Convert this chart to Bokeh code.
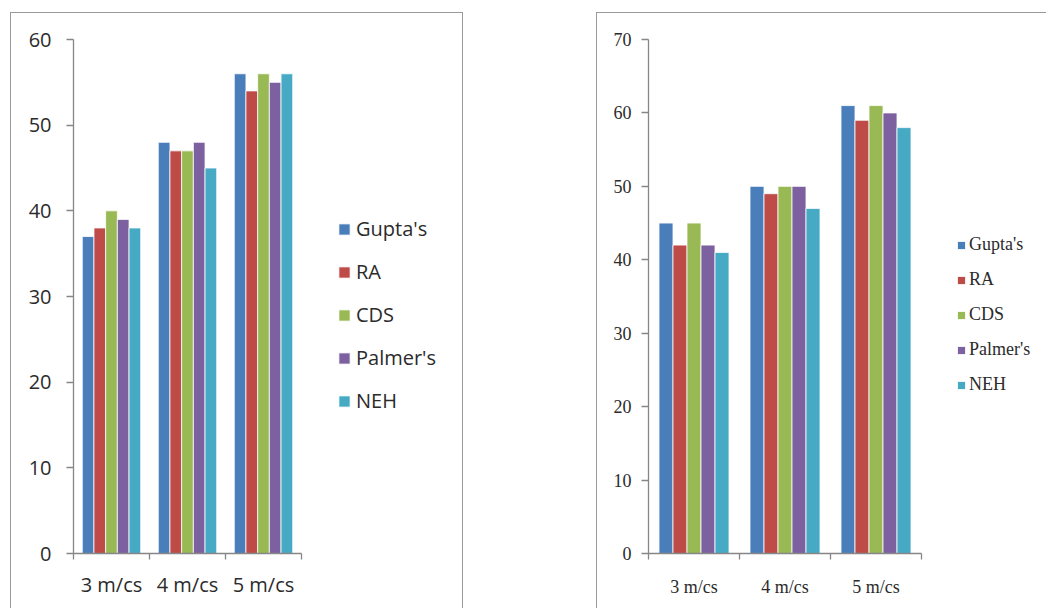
from bokeh.plotting import figure
from bokeh.models import FixedTicker, Legend, LegendItem, Range1d
from bokeh.layouts import row
from bokeh.embed import file_html
from bokeh.resources import INLINE

speeds = ["3 m/cs", "4 m/cs", "5 m/cs"]
methods = ["Gupta's", "RA", "CDS", "Palmer's", "NEH"]
colors = ["#4A7EBB", "#BE4B48", "#98B954", "#7D60A0", "#46AAC5"]

# left panel values, one list per method (3, 4, 5 m/cs)
left_gupta = [37, 48, 56]
left_ra = [38, 47, 54]
left_cds = [40, 47, 56]
left_palmer = [39, 48, 55]
left_neh = [38, 45, 56]
left_ticks = [0, 10, 20, 30, 40, 50, 60]

# right panel values
right_gupta = [45, 50, 61]
right_ra = [42, 49, 59]
right_cds = [45, 50, 61]
right_palmer = [42, 50, 60]
right_neh = [41, 47, 58]
right_ticks = [0, 10, 20, 30, 40, 50, 60, 70]

AXIS_GRAY = "#868686"
BOX_GRAY = "#9a9a9a"
TEXT = "#2b2b2b"


def make_chart(series, yticks, width, height, margin, borders, frame, cat_px,
               font, fsize, tick_standoff, x_standoff, legend_loc, glyph,
               spacing, label_h, label_standoff):
    fl, ft, fb = frame  # frame left, top, bottom border (frame runs to right edge)
    frame_w = width - fl
    x_end = frame_w / cat_px
    styles = {f"border-{side}": f"1.5px solid {BOX_GRAY}" for side in borders}
    p = figure(width=width, height=height, output_backend="svg", toolbar_location=None,
               x_range=Range1d(0, x_end),
               y_range=Range1d(yticks[0], yticks[-1]),
               min_border_left=fl, min_border_top=ft,
               min_border_right=0, min_border_bottom=fb,
               margin=margin, styles=styles)
    p.outline_line_color = None
    p.xgrid.visible = False
    p.ygrid.visible = False
    p.background_fill_color = "white"
    p.border_fill_color = "white"

    n = len(series)
    w = 1.0 / (n + 1.5)  # 150% gap width
    items = []
    for k, (name, vals, col) in enumerate(zip(methods, series, colors)):
        xs = [i + 0.5 + (k - (n - 1) / 2) * w for i in range(len(speeds))]
        r = p.vbar(x=xs, top=vals, width=w, bottom=0, fill_color=col,
                   line_color="white", line_width=0.8)
        items.append(LegendItem(label=name, renderers=[r]))

    # y axis
    ya = p.yaxis[0]
    ya.ticker = FixedTicker(ticks=yticks, minor_ticks=[])
    ya.axis_line_color = AXIS_GRAY
    ya.axis_line_width = 1.3
    ya.major_tick_line_color = AXIS_GRAY
    ya.major_tick_line_width = 1.3
    ya.major_tick_in = 0
    ya.major_tick_out = 7
    ya.minor_tick_line_color = None
    ya.major_label_standoff = tick_standoff
    ya.major_label_text_font = font
    ya.major_label_text_font_size = fsize
    ya.major_label_text_color = TEXT

    # x axis: boundary ticks as minor ticks, labels centred in each category
    xa = p.xaxis[0]
    xa.bounds = (0, len(speeds))
    centers = [i + 0.5 for i in range(len(speeds))]
    xa.ticker = FixedTicker(ticks=centers, minor_ticks=list(range(len(speeds) + 1)))
    xa.major_label_overrides = {c: s for c, s in zip(centers, speeds)}
    xa.major_tick_line_color = None
    xa.major_tick_out = 0
    xa.major_tick_in = 0
    xa.minor_tick_line_color = AXIS_GRAY
    xa.minor_tick_line_width = 1.3
    xa.minor_tick_in = 0
    xa.minor_tick_out = 6
    xa.axis_line_color = AXIS_GRAY
    xa.axis_line_width = 1.3
    xa.major_label_standoff = x_standoff
    xa.major_label_text_font = font
    xa.major_label_text_font_size = fsize
    xa.major_label_text_color = TEXT

    legend = Legend(items=items, location=legend_loc, orientation="vertical",
                    glyph_width=glyph, glyph_height=glyph, label_height=label_h,
                    spacing=spacing, label_standoff=label_standoff, padding=0, margin=0,
                    border_line_color=None, background_fill_alpha=0,
                    label_text_font=font, label_text_font_size=fsize,
                    label_text_color=TEXT)
    p.add_layout(legend, "center")
    return p


left = make_chart([left_gupta, left_ra, left_cds, left_palmer, left_neh], left_ticks,
                  width=453, height=600, margin=(12, 0, 0, 10),
                  borders=("top", "left", "right"), frame=(62, 26, 60), cat_px=76,
                  font="Open Sans", fsize="20px", tick_standoff=15, x_standoff=11,
                  legend_loc=(264, 139), glyph=14, spacing=16, label_h=23,
                  label_standoff=5)

right = make_chart([right_gupta, right_ra, right_cds, right_palmer, right_neh], right_ticks,
                   width=450, height=600, margin=(12, 0, 0, 133),
                   borders=("top", "left"), frame=(51, 26, 49), cat_px=91,
                   font="Liberation Serif", fsize="18px", tick_standoff=10, x_standoff=17,
                   legend_loc=(308, 158), glyph=10, spacing=14, label_h=21,
                   label_standoff=3)

layout = row(left, right)
open("out.html", "w").write(file_html(layout, INLINE))
